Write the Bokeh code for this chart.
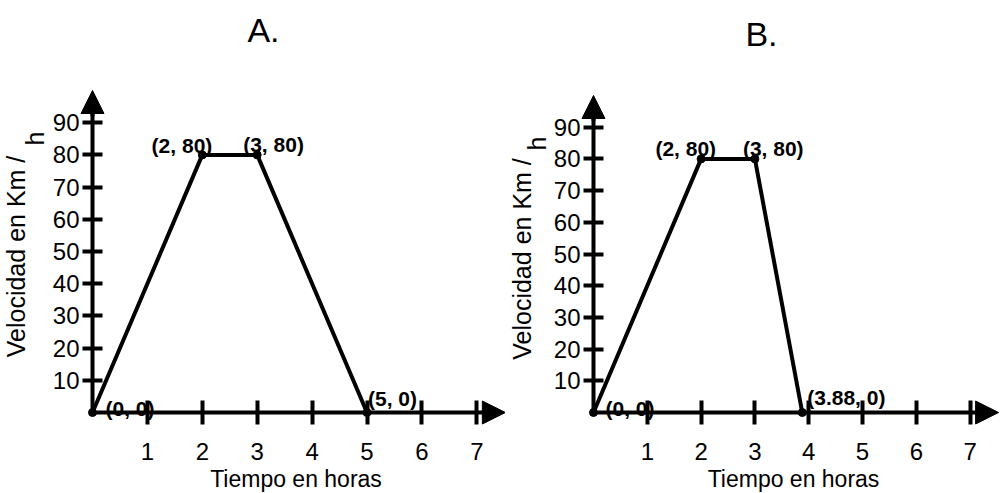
from bokeh.plotting import figure
from bokeh.models import (LinearAxis, FixedTicker, Arrow, NormalHead, Label,
                          ColumnDataSource, Range1d)
from bokeh.layouts import row
from bokeh.embed import file_html
from bokeh.resources import INLINE
from bokeh.core.properties import value

# ---------------- data ----------------
panel_titles = ["A.", "B."]
x_ticks = [1, 2, 3, 4, 5, 6, 7]
y_ticks = [10, 20, 30, 40, 50, 60, 70, 80, 90]

a_time = [0, 2, 3, 5]
a_speed = [0, 80, 80, 0]
a_labels = ["(0, 0)", "(2, 80)", "(3, 80)", "(5, 0)"]

b_time = [0, 2, 3, 3.88]
b_speed = [0, 80, 80, 0]
b_labels = ["(0, 0)", "(2, 80)", "(3, 80)", "(3.88, 0)"]

x_title = "Tiempo en horas"
y_title = "Velocidad en Km /"
y_title_sub = "h"

# ---------------- style ----------------
FONT = "Liberation Sans"
H = 493

def panel(title, times, speeds, labels, width, ox, oy, xs, ys,
          x_tip, y_tip, offs, aligns, title_px, sub_px, ylab_standoff):
    x0 = -ox / xs
    x1 = (width - ox) / xs
    y0 = -(H - oy) / ys
    y1 = oy / ys
    p = figure(width=width, height=H, x_range=Range1d(x0, x1),
               y_range=Range1d(y0, y1), x_axis_location=None,
               y_axis_location=None, toolbar_location=None,
               output_backend="svg", min_border=0,
               outline_line_color=None, background_fill_color="white",
               border_fill_color="white")
    for g in p.grid:
        g.visible = False

    common = dict(axis_line_width=4, axis_line_color="black",
                  major_tick_line_width=4, major_tick_line_color="black",
                  minor_tick_line_color=None,
                  major_label_text_font=FONT,
                  major_label_text_color="black",
                  axis_label_text_font=FONT,
                  axis_label_text_font_style="normal",
                  axis_label_text_color="black")

    xa = LinearAxis(fixed_location=0, ticker=FixedTicker(ticks=x_ticks),
                    bounds=(0, x_tip - 0.1), axis_label=x_title,
                    major_tick_in=12, major_tick_out=12,
                    major_label_standoff=18,
                    major_label_text_font_size="24px",
                    axis_label_text_font_size="23px",
                    axis_label_standoff=3, **common)
    p.add_layout(xa, "below")

    ya = LinearAxis(fixed_location=0, ticker=FixedTicker(ticks=y_ticks),
                    bounds=(0, y_tip - 3), axis_label=y_title,
                    major_tick_in=10, major_tick_out=10,
                    major_label_standoff=3,
                    major_label_text_font_size="24px",
                    axis_label_text_font_size="25px",
                    axis_label_standoff=ylab_standoff, **common)
    p.add_layout(ya, "left")

    # arrow heads on the axes
    p.add_layout(Arrow(end=NormalHead(size=23, fill_color="black",
                                      line_color="black", line_width=1),
                       x_start=x_tip - 0.3, y_start=0, x_end=x_tip, y_end=0,
                       line_width=4, line_color="black"))
    p.add_layout(Arrow(end=NormalHead(size=23, fill_color="black",
                                      line_color="black", line_width=1),
                       x_start=0, y_start=y_tip - 8, x_end=0, y_end=y_tip,
                       line_width=4, line_color="black"))

    # speed/time polyline
    p.line(times, speeds, line_width=4, line_color="black")
    p.scatter(times, speeds, size=8, color="black")

    # point labels
    src = ColumnDataSource(dict(x=times, y=speeds, text=labels,
                                xo=[o[0] for o in offs],
                                yo=[o[1] for o in offs],
                                al=aligns))
    p.text(x="x", y="y", text="text", x_offset="xo", y_offset="yo",
           text_align="al", text_baseline="alphabetic", source=src,
           text_font=value(FONT), text_font_style="bold",
           text_font_size="21px", text_color="black")

    # subscript h of the y title
    p.add_layout(Label(x=(sub_px[0] - ox) / xs, y=(oy - sub_px[1]) / ys,
                       text=y_title_sub, angle=90, angle_units="deg",
                       text_font=FONT, text_font_size="25px",
                       text_align="center", text_baseline="middle",
                       text_color="black"))

    # panel title
    p.add_layout(Label(x=(title_px[0] - ox) / xs, y=(oy - title_px[1]) / ys,
                       text=title, text_font=FONT, text_font_size="34px",
                       text_align="center", text_baseline="middle",
                       text_color="black"))
    return p


pa = panel(panel_titles[0], a_time, a_speed, a_labels, 505, 92, 412,
           54.9, 3.22, 7.52, 100,
           [(13, -4), (10, -9), (-14, -10), (1, -14)],
           ["left", "right", "left", "left"],
           (263, 29), (34, 138), 20)
pb = panel(panel_titles[1], b_time, b_speed, b_labels, 495, 88, 412,
           53.8, 3.17, 7.53, 100,
           [(12, -4), (15, -10), (-12, -10), (5, -15)],
           ["left", "right", "left", "left"],
           (256, 33), (31, 143), 15)

layout = row(pa, pb, spacing=0)
open("out.html", "w").write(file_html(layout, INLINE))
